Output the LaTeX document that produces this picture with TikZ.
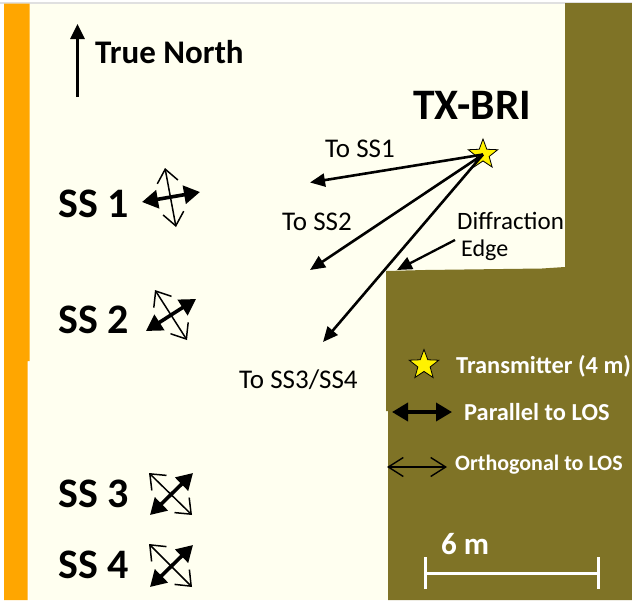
\documentclass[tikz,border=0pt]{standalone}
\usepackage{fontspec}
\setmainfont{Carlito}
\usetikzlibrary{arrows.meta,shapes.geometric}
\definecolor{cream}{HTML}{FFFFF0}
\definecolor{olive}{HTML}{7F7326}
\definecolor{orng}{HTML}{FFA600}
\tikzset{
  ray/.style={line width=2.6pt,-{Triangle[length=15pt,width=13pt]}},
  heavy/.style={line width=3.6pt,{Triangle[length=16pt,width=18pt]}-{Triangle[length=16pt,width=18pt]}},
  lightarrow/.style={line width=1.5pt,{Straight Barb[length=13pt,width=21pt,line width=1.5pt]}-{Straight Barb[length=13pt,width=21pt,line width=1.5pt]}},
  sslabel/.style={font=\bfseries\fontsize{42}{42}\selectfont,anchor=west,inner sep=0pt},
  dark/.style={anchor=west,inner sep=0pt,font=\fontsize{27}{27}\selectfont},
  darksmall/.style={anchor=west,inner sep=0pt,font=\fontsize{25}{25}\selectfont},
  pale/.style={anchor=west,inner sep=0pt,text=white,font=\bfseries\fontsize{24.4}{25}\selectfont},
  starmark/.style={star,star points=5,star point ratio=2.4,fill=yellow,draw=black,line width=0.8pt,minimum size=31pt,inner sep=0pt},
}
\begin{document}
\begin{tikzpicture}[x=1pt,y=-1pt]
\useasboundingbox (0,0) rectangle (632,600);
\fill[white] (0,0) rectangle (632,600);
\fill[black!12] (0,2) rectangle (632,3.5);
\fill[cream] (29,3.5) rectangle (632,600);
\fill[orng] (4,3.5) -- (29.5,3.5) -- (29.5,361) -- (27.5,361) -- (27.5,600) -- (4,600) -- cycle;
\fill[olive] (565,3) -- (632,3) -- (632,600) -- (388,600) -- (388,411) -- (386,411) -- (386,271) -- (425,270) -- (542,268.5) -- (565,267) -- cycle;

% compass
\coordinate (northfoot) at (77.5,97);
\coordinate (northtip) at (77.5,24);
\draw[line width=2.8pt,-{Triangle[length=15pt,width=14pt]}] (northfoot) -- (northtip);
\node[anchor=west,inner sep=0pt,font=\bfseries\fontsize{33}{33}\selectfont] (north) at (95,52) {True North};
\node[anchor=west,inner sep=0pt,font=\bfseries\fontsize{43.5}{44}\selectfont] (bri) at (413,105) {TX-BRI};

% rays
\node[starmark] (tx) at (483,154.5) {};
\coordinate (toa) at (310,182.5);
\coordinate (tob) at (310,270);
\coordinate (toc) at (323,342);
\draw[ray] (tx.center) -- (toa);
\draw[ray] (tx.center) -- (tob);
\draw[ray] (tx.center) -- (toc);
\node[dark] (la) at (325,149) {To SS1};
\node[dark] (lb) at (282,222) {To SS2};
\node[dark] (lc) at (239,380) {To SS3/SS4};
\node[darksmall] (diff) at (457,221) {Diffraction};
\node[darksmall,font=\fontsize{24}{24}\selectfont] (edge) at (461,250) {Edge};
\coordinate (difffoot) at (455,240);
\coordinate (difftip) at (397,270);
\draw[line width=2.3pt,-{Triangle[length=15pt,width=13pt]}] (difffoot) -- (difftip);

% stations
\node[sslabel] (s1) at (58,204) {SS 1};
\node[sslabel] (s2) at (58,320) {SS 2};
\node[sslabel] (s3) at (58,494) {SS 3};
\node[sslabel] (s4) at (58,565) {SS 4};

\coordinate (a1) at (142,202); \coordinate (b1) at (200,192);
\coordinate (c1) at (165,168); \coordinate (d1) at (176,227);
\draw[lightarrow] (c1) -- (d1);
\draw[heavy] (a1) -- (b1);
\coordinate (a2) at (146,331); \coordinate (b2) at (196,299);
\coordinate (c2) at (155,290); \coordinate (d2) at (187,340);
\draw[lightarrow] (c2) -- (d2);
\draw[heavy] (a2) -- (b2);
\coordinate (a3) at (150,515); \coordinate (b3) at (193,473);
\coordinate (c3) at (149,473); \coordinate (d3) at (192,515);
\draw[lightarrow] (c3) -- (d3);
\draw[heavy] (a3) -- (b3);
\coordinate (a4) at (150,587); \coordinate (b4) at (193,545);
\coordinate (c4) at (149,544); \coordinate (d4) at (192,587);
\draw[lightarrow] (c4) -- (d4);
\draw[heavy] (a4) -- (b4);

% legend
\node[starmark] (legstar) at (424,365) {};
\node[pale] (lt) at (456,366) {Transmitter (4 m)};
\coordinate (pa) at (392,412); \coordinate (pb) at (452,412);
\draw[heavy] (pa) -- (pb);
\node[pale] (lp) at (464,412) {Parallel to LOS};
\coordinate (oa) at (387,467); \coordinate (ob) at (447,467);
\draw[line width=1.4pt,{Straight Barb[length=15pt,width=19pt,line width=1.4pt]}-{Straight Barb[length=15pt,width=19pt,line width=1.4pt]}] (oa) -- (ob);
\node[pale,font=\bfseries\fontsize{22}{24}\selectfont] (lo) at (455,465) {Orthogonal to LOS};

% scale
\node[anchor=west,inner sep=0pt,text=white,font=\bfseries\fontsize{31}{31}\selectfont] (six) at (441,544) {6 m};
\coordinate (sa) at (425,573); \coordinate (sb) at (598.5,573);
\draw[white,line width=3pt] (sa) -- (sb);
\draw[white,line width=3pt] ([yshift=-16pt]sa) -- ([yshift=16pt]sa);
\draw[white,line width=3pt] ([yshift=-16pt]sb) -- ([yshift=16pt]sb);
\end{tikzpicture}
\end{document}
